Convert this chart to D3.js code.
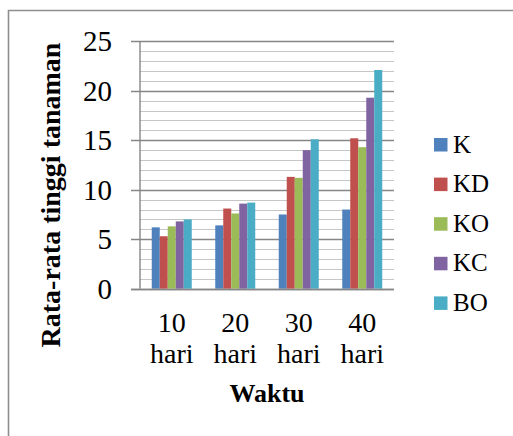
<!DOCTYPE html>
<html><head><meta charset="utf-8">
<script src="https://cdn.jsdelivr.net/npm/d3@7"></script>
<style>body{margin:0;background:#fff}svg{display:block}</style>
</head><body>
<script>
const categories = [["10","hari"],["20","hari"],["30","hari"],["40","hari"]];
const seriesNames = ["K","KD","KO","KC","BO"];
const seriesColors = ["#4F81BD","#C0504D","#9BBB59","#8064A2","#4BACC6"];
const K  = [6.2, 6.4, 7.5, 8.0];
const KD = [5.3, 8.1, 11.3, 15.2];
const KO = [6.3, 7.6, 11.2, 14.3];
const KC = [6.8, 8.6, 14.0, 19.3];
const BO = [7.0, 8.7, 15.1, 22.1];
const seriesValues = [K, KD, KO, KC, BO];
const yTicks = [0,5,10,15,20,25];
const yTitle = "Rata-rata tinggi tanaman";
const xTitle = "Waktu";

const W = 513, H = 436;
const svg = d3.select("body").append("svg").attr("width", W).attr("height", H);
const font = "'Liberation Serif','Times New Roman',serif";

// outer frame
svg.append("path").attr("d", `M8.5,${H+5} V10.5 H${W+5}`)
  .attr("fill","none").attr("stroke","#8e8e8e").attr("stroke-width",1.6);

const L = 140, R = 394, T = 41.3, B = 288.7;
const y = d3.scaleLinear().domain([0,25]).range([B, T]);
const x0 = d3.scaleBand().domain(d3.range(categories.length)).range([L, R]).paddingInner(0).paddingOuter(0);
const innerW = 40;
const x1 = d3.scaleBand().domain(d3.range(seriesNames.length)).range([0, innerW]);

// minor gridlines
const minor = d3.range(0, 26).filter(v => v % 5 !== 0);
svg.append("g").selectAll("line").data(minor).join("line")
  .attr("x1", L).attr("x2", R).attr("y1", d => Math.round(y(d))+0.5).attr("y2", d => Math.round(y(d))+0.5)
  .attr("stroke", "#c6c6c6").attr("stroke-width", 1.2);
// major gridlines + ticks
svg.append("g").selectAll("line").data(yTicks).join("line")
  .attr("x1", L-9).attr("x2", R).attr("y1", d => Math.round(y(d))+0.5).attr("y2", d => Math.round(y(d))+0.5)
  .attr("stroke", "#868686").attr("stroke-width", 1.4);
// y axis line
svg.append("line").attr("x1", L).attr("x2", L).attr("y1", T).attr("y2", B)
  .attr("stroke", "#868686").attr("stroke-width", 1.4);

// bars
seriesValues.forEach((vals, si) => {
  svg.append("g").selectAll("rect").data(vals).join("rect")
    .attr("x", (d,i) => x0(i) + (x0.bandwidth()-innerW)/2 + x1(si))
    .attr("width", x1.bandwidth())
    .attr("y", d => y(d)).attr("height", d => B - y(d))
    .attr("fill", seriesColors[si]);
});
// baseline
svg.append("line").attr("x1", L-9).attr("x2", R).attr("y1", Math.round(B)+0.5).attr("y2", Math.round(B)+0.5)
  .attr("stroke", "#868686").attr("stroke-width", 1.4);

// y tick labels
svg.append("g").selectAll("text").data(yTicks).join("text")
  .attr("x", 112).attr("y", d => y(d) + 10).attr("text-anchor","end")
  .attr("font-family", font).attr("font-size", 29).attr("fill","#000")
  .text(d => d);

// x labels
categories.forEach((c, i) => {
  const cx = x0(i) + x0.bandwidth()/2;
  const t = svg.append("text").attr("text-anchor","middle").attr("font-family", font)
    .attr("font-size", 28).attr("fill","#000");
  t.append("tspan").attr("x", cx).attr("y", 331.5).text(c[0]);
  t.append("tspan").attr("x", cx).attr("y", 363).text(c[1]);
});

// axis titles
svg.append("text").attr("transform", "translate(59.5,195) rotate(-90)")
  .attr("text-anchor","middle").attr("font-family", font).attr("font-weight","bold")
  .attr("font-size", 28).attr("fill","#000").text(yTitle);
svg.append("text").attr("x", 267).attr("y", 401.5)
  .attr("text-anchor","middle").attr("font-family", font).attr("font-weight","bold")
  .attr("font-size", 26).attr("fill","#000").text(xTitle);

// legend
const lg = svg.append("g");
seriesNames.forEach((n, i) => {
  const cy = 144.5 + i * 39.6;
  lg.append("rect").attr("x", 434).attr("y", cy - 6.5).attr("width", 13.5).attr("height", 13.5)
    .attr("fill", seriesColors[i]);
  lg.append("text").attr("x", 453).attr("y", cy + 8).attr("font-family", font)
    .attr("font-size", 25).attr("fill","#000").text(n);
});
</script>
</body></html>
